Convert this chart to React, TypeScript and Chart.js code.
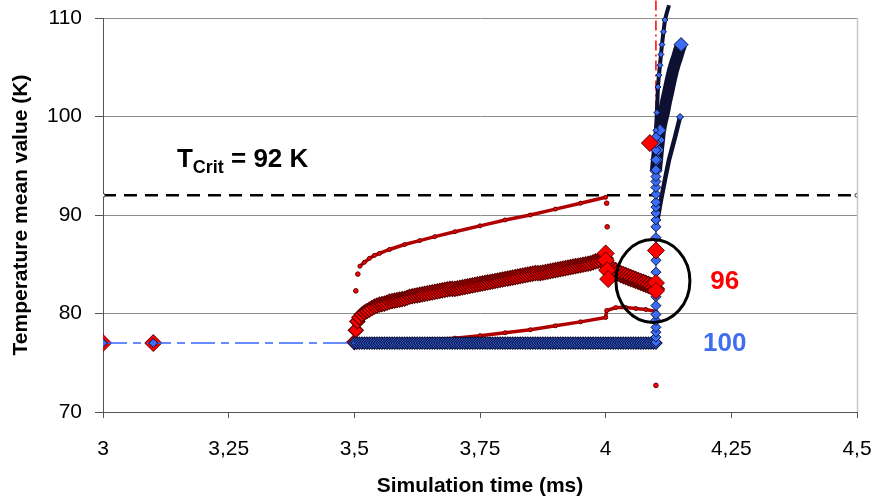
import { useEffect, useRef } from "react";
import { Chart, registerables } from "chart.js";

Chart.register(...registerables);

// ---------------- data ----------------
const critTemp = [92, 92];
const critTime = [3.0, 4.5];

const startTime = [3.0, 3.1];
const startTemp = [77, 77];
const leadTime = [3.0, 3.1, 3.5];
const leadTemp = [77, 77, 77];

const base100Time = [
  3.500, 3.505, 3.510, 3.515, 3.520, 3.525, 3.530, 3.535, 3.540, 3.545,
  3.550, 3.555, 3.560, 3.565, 3.570, 3.575, 3.580, 3.585, 3.590, 3.595,
  3.600, 3.605, 3.610, 3.615, 3.620, 3.625, 3.630, 3.635, 3.640, 3.645,
  3.650, 3.655, 3.660, 3.665, 3.670, 3.675, 3.680, 3.685, 3.690, 3.695,
  3.700, 3.705, 3.710, 3.715, 3.720, 3.725, 3.730, 3.735, 3.740, 3.745,
  3.750, 3.755, 3.760, 3.765, 3.770, 3.775, 3.780, 3.785, 3.790, 3.795,
  3.800, 3.805, 3.810, 3.815, 3.820, 3.825, 3.830, 3.835, 3.840, 3.845,
  3.850, 3.855, 3.860, 3.865, 3.870, 3.875, 3.880, 3.885, 3.890, 3.895,
  3.900, 3.905, 3.910, 3.915, 3.920, 3.925, 3.930, 3.935, 3.940, 3.945,
  3.950, 3.955, 3.960, 3.965, 3.970, 3.975, 3.980, 3.985, 3.990, 3.995,
  4.000, 4.005, 4.010, 4.015, 4.020, 4.025, 4.030, 4.035, 4.040, 4.045,
  4.050, 4.055, 4.060, 4.065, 4.070, 4.075, 4.080, 4.085, 4.090, 4.095,
  4.100,
];
const base100Temp = [
  77, 77, 77, 77, 77, 77, 77, 77, 77, 77,
  77, 77, 77, 77, 77, 77, 77, 77, 77, 77,
  77, 77, 77, 77, 77, 77, 77, 77, 77, 77,
  77, 77, 77, 77, 77, 77, 77, 77, 77, 77,
  77, 77, 77, 77, 77, 77, 77, 77, 77, 77,
  77, 77, 77, 77, 77, 77, 77, 77, 77, 77,
  77, 77, 77, 77, 77, 77, 77, 77, 77, 77,
  77, 77, 77, 77, 77, 77, 77, 77, 77, 77,
  77, 77, 77, 77, 77, 77, 77, 77, 77, 77,
  77, 77, 77, 77, 77, 77, 77, 77, 77, 77,
  77, 77, 77, 77, 77, 77, 77, 77, 77, 77,
  77, 77, 77, 77, 77, 77, 77, 77, 77, 77,
  77,
];

const rise100Time = [4.1, 4.1, 4.1, 4.1, 4.1, 4.1, 4.1, 4.1, 4.1, 4.1, 4.1, 4.1, 4.1, 4.1, 4.1, 4.1, 4.1, 4.1, 4.1, 4.1, 4.1, 4.1, 4.1, 4.1, 4.1, 4.1, 4.1];
const rise100Temp = [77.1, 77.6, 78.1, 78.6, 79.3, 79.9, 80.8, 81.7, 82.9, 84.2, 85.4, 86.6, 87.7, 88.8, 89.5, 90.2, 90.8, 91.3, 92.1, 92.8, 93.4, 93.9, 94.6, 95.6, 96.6, 97.3, 97.9];

const tailATime = [4.100, 4.102, 4.104, 4.106, 4.108, 4.110, 4.112, 4.115, 4.118, 4.122, 4.126];
const tailATemp = [98.6, 100.4, 103.0, 104.2, 105.2, 106.3, 107.3, 108.6, 109.8, 110.6, 111.3];

const tailBTime = [4.100, 4.102, 4.104, 4.106, 4.108, 4.112, 4.116, 4.120, 4.124, 4.129, 4.134, 4.138, 4.142, 4.146, 4.150];
const tailBTemp = [94.5, 95.6, 96.6, 97.6, 98.6, 99.6, 100.4, 101.5, 102.4, 103.6, 104.7, 105.4, 106.0, 106.7, 107.3];

const tailCTime = [4.099, 4.104, 4.110, 4.118, 4.126, 4.138, 4.148];
const tailCTemp = [88.8, 89.8, 91.5, 93.6, 95.6, 97.9, 99.95];

const band96Time = [
  3.500, 3.503, 3.506,
  3.510, 3.515, 3.520, 3.525, 3.530, 3.535, 3.540, 3.545, 3.550, 3.555,
  3.560, 3.565, 3.570, 3.575, 3.580, 3.585, 3.590, 3.595, 3.600, 3.605,
  3.610, 3.615, 3.620, 3.625, 3.630, 3.635, 3.640, 3.645, 3.650, 3.655,
  3.660, 3.665, 3.670, 3.675, 3.680, 3.685, 3.690, 3.695, 3.700, 3.705,
  3.710, 3.715, 3.720, 3.725, 3.730, 3.735, 3.740, 3.745, 3.750, 3.755,
  3.760, 3.765, 3.770, 3.775, 3.780, 3.785, 3.790, 3.795, 3.800, 3.805,
  3.810, 3.815, 3.820, 3.825, 3.830, 3.835, 3.840, 3.845, 3.850, 3.855,
  3.860, 3.865, 3.870, 3.875, 3.880, 3.885, 3.890, 3.895, 3.900, 3.905,
  3.910, 3.915, 3.920, 3.925, 3.930, 3.935, 3.940, 3.945, 3.950, 3.955,
  3.960, 3.965, 3.970, 3.975, 3.980, 3.985, 3.990, 3.995, 4.000, 4.005,
  4.010, 4.015, 4.020, 4.025, 4.030, 4.035, 4.040, 4.045, 4.050, 4.055,
  4.060, 4.065, 4.070, 4.075, 4.080, 4.085, 4.090, 4.095, 4.100,
];
const band96Temp = [
  77.1, 78.3, 79.2,
  79.6, 79.9, 80.1, 80.25, 80.4, 80.55, 80.7, 80.8, 80.9, 80.95,
  81.0, 81.1, 81.2, 81.25, 81.3, 81.35, 81.4, 81.45, 81.5, 81.6,
  81.7, 81.75, 81.8, 81.85, 81.9, 81.95, 82.0, 82.05, 82.1, 82.15,
  82.2, 82.25, 82.3, 82.35, 82.4, 82.45, 82.5, 82.5, 82.5, 82.55,
  82.6, 82.65, 82.7, 82.75, 82.8, 82.85, 82.9, 82.95, 83.0, 83.05,
  83.1, 83.15, 83.2, 83.25, 83.3, 83.35, 83.4, 83.45, 83.5, 83.55,
  83.6, 83.65, 83.7, 83.75, 83.8, 83.85, 83.9, 83.95, 84.0, 84.05,
  84.1, 84.1, 84.1, 84.15, 84.2, 84.25, 84.3, 84.35, 84.4, 84.45,
  84.5, 84.55, 84.6, 84.65, 84.7, 84.75, 84.8, 84.85, 84.9, 84.95,
  85.0, 85.05, 85.1, 85.2, 85.3, 85.35, 85.4, 85.5, 85.6, 84.8,
  84.5, 84.4, 84.3, 84.15, 84.0, 83.9, 83.8, 83.7, 83.6, 83.5,
  83.4, 83.3, 83.2, 83.1, 83.0, 82.9, 82.8, 82.65, 82.5,
];

const mark96Time = [4.0, 4.0, 4.003, 4.005, 4.088, 4.1, 4.1, 4.1];
const mark96Temp = [86.1, 85.4, 84.4, 83.5, 97.3, 86.4, 83.1, 82.3];

const upper96Time = [3.511, 3.52, 3.53, 3.54, 3.55, 3.57, 3.60, 3.63, 3.66, 3.70, 3.75, 3.80, 3.85, 3.90, 3.95, 4.00];
const upper96Temp = [84.8, 85.2, 85.6, 85.9, 86.1, 86.5, 87.0, 87.4, 87.8, 88.3, 88.9, 89.5, 90.0, 90.6, 91.2, 91.8];

const lower96Time = [3.50, 3.55, 3.60, 3.65, 3.70, 3.75, 3.80, 3.85, 3.90, 3.95, 4.00, 4.002, 4.02, 4.04, 4.06, 4.08, 4.10];
const lower96Temp = [77.0, 77.1, 77.2, 77.35, 77.5, 77.75, 78.05, 78.35, 78.75, 79.15, 79.6, 80.3, 80.6, 80.6, 80.5, 80.4, 80.2];

const dot96Time = [3.503, 3.507, 4.002, 4.003, 4.1];
const dot96Temp = [82.3, 84.0, 91.2, 88.8, 72.7];

const vert96Time = [4.1, 4.1];
const vert96Temp = [86.4, 111.8];

// ---------------- styles ----------------
const RED = "#ff0000";
const RED_EDGE = "#5a0000";
const BLUE = "#3b6cf5";
const BLUE_EDGE = "#0a1440";
const BLUE_LINE = "#3366ff";
const DARK = "#0d1030";
const FONT = "Arial, 'Liberation Sans', sans-serif";

const zip = (xs: number[], ys: number[]) => xs.map((x, i) => ({ x, y: ys[i] }));

const annotations = {
  id: "annotations",
  afterDatasetsDraw(chart: any) {
    const { ctx, chartArea, scales } = chart;
    const x = scales.x;
    const y = scales.y;
    ctx.save();
    // right frame
    ctx.strokeStyle = "#c8c8c8";
    ctx.lineWidth = 1.5;
    ctx.beginPath();
    ctx.moveTo(chartArea.right + 0.5, chartArea.top);
    ctx.lineTo(chartArea.right + 0.5, chartArea.bottom);
    ctx.stroke();
    // ellipse
    const cx = x.getPixelForValue(4.094);
    const cy = y.getPixelForValue(83.3);
    const rx = x.getPixelForValue(4.094 + 0.0736) - cx;
    const ry = y.getPixelForValue(83.3 - 4.21) - cy;
    ctx.strokeStyle = "#000";
    ctx.lineWidth = 3;
    ctx.beginPath();
    ctx.ellipse(cx, cy, rx, ry, 0, 0, Math.PI * 2);
    ctx.stroke();
    // labels
    ctx.textAlign = "center";
    ctx.textBaseline = "middle";
    ctx.font = `bold 26px ${FONT}`;
    ctx.fillStyle = RED;
    ctx.fillText("96", x.getPixelForValue(4.237), y.getPixelForValue(83.2));
    ctx.fillStyle = "#3f6ff0";
    ctx.fillText("100", x.getPixelForValue(4.237), y.getPixelForValue(76.9));
    // T crit
    ctx.textAlign = "left";
    ctx.textBaseline = "alphabetic";
    ctx.fillStyle = "#000";
    const tx = x.getPixelForValue(3.147);
    const ty = y.getPixelForValue(94.87);
    ctx.font = `bold 26px ${FONT}`;
    ctx.fillText("T", tx, ty);
    const w1 = ctx.measureText("T").width;
    ctx.font = `bold 18px ${FONT}`;
    ctx.fillText("Crit", tx + w1, ty + 6);
    const w2 = ctx.measureText("Crit").width;
    ctx.font = `bold 26px ${FONT}`;
    ctx.fillText(" = 92 K", tx + w1 + w2, ty);
    ctx.restore();
  },
};

export default function App() {
  const ref = useRef<HTMLCanvasElement>(null);

  useEffect(() => {
    if (!ref.current) return;
    const topClip = { left: 0, top: 20, right: 0, bottom: 0 };
    const chart = new Chart(ref.current, {
      type: "scatter",
      data: {
        datasets: [
          {
            data: zip(leadTime, leadTemp),
            showLine: true,
            borderColor: BLUE_LINE,
            borderWidth: 1.5,
            borderDash: [24, 6, 8, 6],
            pointStyle: "rectRot",
            pointRadius: (c: any) => (c.dataIndex < 2 ? 4.5 : 0),
            backgroundColor: BLUE,
            pointBorderColor: BLUE_EDGE,
            pointBorderWidth: 1,
          },
          {
            data: zip(startTime, startTemp),
            pointStyle: "rectRot",
            pointRadius: 8.5,
            backgroundColor: RED,
            borderColor: RED_EDGE,
            borderWidth: 1,
          },
          {
            data: zip(mark96Time, mark96Temp),
            pointStyle: "rectRot",
            pointRadius: 8.5,
            backgroundColor: RED,
            borderColor: RED_EDGE,
            borderWidth: 1,
          },
          {
            data: zip(rise100Time, rise100Temp),
            showLine: true,
            borderColor: BLUE_LINE,
            borderWidth: 1.5,
            pointStyle: "rectRot",
            pointRadius: 5,
            backgroundColor: BLUE,
            pointBorderColor: BLUE_EDGE,
            pointBorderWidth: 1,
          },
          {
            data: zip(tailATime, tailATemp),
            showLine: true,
            clip: topClip,
            borderColor: DARK,
            borderWidth: 4,
            pointStyle: "rectRot",
            pointRadius: 3,
            backgroundColor: BLUE,
            pointBorderColor: BLUE_EDGE,
            pointBorderWidth: 1,
          },
          {
            data: zip(tailBTime, tailBTemp),
            showLine: true,
            borderColor: DARK,
            borderWidth: 12,
            pointStyle: "rectRot",
            pointRadius: (c: any) =>
              c.dataIndex === tailBTime.length - 1 ? 7 : c.dataIndex < 5 ? 6 : 0,
            backgroundColor: BLUE,
            pointBorderColor: BLUE_EDGE,
            pointBorderWidth: 1,
          },
          {
            data: zip(tailCTime, tailCTemp),
            showLine: true,
            borderColor: DARK,
            borderWidth: 4.5,
            pointStyle: "rectRot",
            pointRadius: (c: any) => (c.dataIndex === tailCTime.length - 1 ? 3.5 : 0),
            backgroundColor: BLUE,
            pointBorderColor: BLUE_EDGE,
            pointBorderWidth: 1,
          },
          {
            data: zip(base100Time, base100Temp),
            pointStyle: "rectRot",
            pointRadius: 6,
            backgroundColor: BLUE,
            borderColor: BLUE_EDGE,
            borderWidth: 1.2,
          },
          {
            data: zip(band96Time, band96Temp),
            pointStyle: "rectRot",
            pointRadius: (c: any) => (c.raw && c.raw.x > 4.0 ? 8.5 : 7.5),
            backgroundColor: RED,
            borderColor: RED_EDGE,
            borderWidth: 1.2,
          },
          {
            data: zip(upper96Time, upper96Temp),
            showLine: true,
            borderColor: "#b00000",
            borderWidth: 3.5,
            pointRadius: 2,
            backgroundColor: RED,
            pointBorderColor: RED_EDGE,
            pointBorderWidth: 1,
          },
          {
            data: zip(lower96Time, lower96Temp),
            showLine: true,
            borderColor: "#b00000",
            borderWidth: 3.5,
            pointRadius: 2,
            backgroundColor: RED,
            pointBorderColor: RED_EDGE,
            pointBorderWidth: 1,
          },
          {
            data: zip(dot96Time, dot96Temp),
            pointRadius: 2.3,
            backgroundColor: RED,
            borderColor: RED_EDGE,
            borderWidth: 1,
          },
          {
            data: zip(vert96Time, vert96Temp),
            showLine: true,
            clip: topClip,
            borderColor: RED,
            borderWidth: 1.5,
            borderDash: [10, 4, 2, 4],
            pointRadius: 0,
          },
          {
            data: zip(critTime, critTemp),
            showLine: true,
            borderColor: "#000",
            borderWidth: 2.5,
            borderDash: [13, 8],
            pointRadius: 2,
            backgroundColor: "#fff",
            pointBorderColor: "#333",
            pointBorderWidth: 1,
          },
        ] as any,
      },
      options: {
        responsive: false,
        animation: false,
        devicePixelRatio: 1,
        events: [],
        layout: { padding: { left: 0, right: 15, top: 18, bottom: 0 } },
        plugins: { legend: { display: false }, tooltip: { enabled: false } },
        elements: { line: { tension: 0 } },
        scales: {
          x: {
            type: "linear",
            min: 3,
            max: 4.5,
            afterFit: (s: any) => {
              s.height = 87;
              s.paddingLeft = 0;
              s.paddingRight = 0;
            },
            ticks: {
              stepSize: 0.25,
              maxRotation: 0,
              autoSkip: false,
              padding: 19,
              color: "#000",
              font: { family: FONT, size: 21 },
              callback: (v: any) => String(v).replace(".", ","),
            },
            grid: {
              drawOnChartArea: false,
              drawTicks: true,
              tickLength: 6,
              color: "#555",
              tickColor: "#555",
            },
            border: { display: true, color: "#555", width: 1 },
            title: {
              display: true,
              text: "Simulation time (ms)",
              color: "#000",
              font: { family: FONT, size: 21, weight: "bold" },
              padding: { top: 0, bottom: 0 },
            },
          },
          y: {
            type: "linear",
            min: 70,
            max: 110,
            afterFit: (s: any) => {
              s.width = 103;
              s.paddingTop = 0;
              s.paddingBottom = 0;
            },
            ticks: {
              stepSize: 10,
              padding: 13,
              color: "#000",
              font: { family: FONT, size: 21 },
            },
            grid: {
              drawOnChartArea: true,
              drawTicks: true,
              tickLength: 8,
              color: "#8c8c8c",
              tickColor: "#555",
              lineWidth: 1,
            },
            border: { display: true, color: "#555", width: 1 },
            title: {
              display: true,
              text: "Temperature mean value (K)",
              color: "#000",
              font: { family: FONT, size: 21, weight: "bold" },
              padding: { top: 9, bottom: 0 },
            },
          },
        },
      } as any,
      plugins: [annotations],
    });
    return () => chart.destroy();
  }, []);

  return (
    <div style={{ position: "absolute", left: 0, top: 0, width: 872, height: 499, background: "#fff" }}>
      <canvas ref={ref} width={872} height={499} style={{ display: "block" }} />
    </div>
  );
}
